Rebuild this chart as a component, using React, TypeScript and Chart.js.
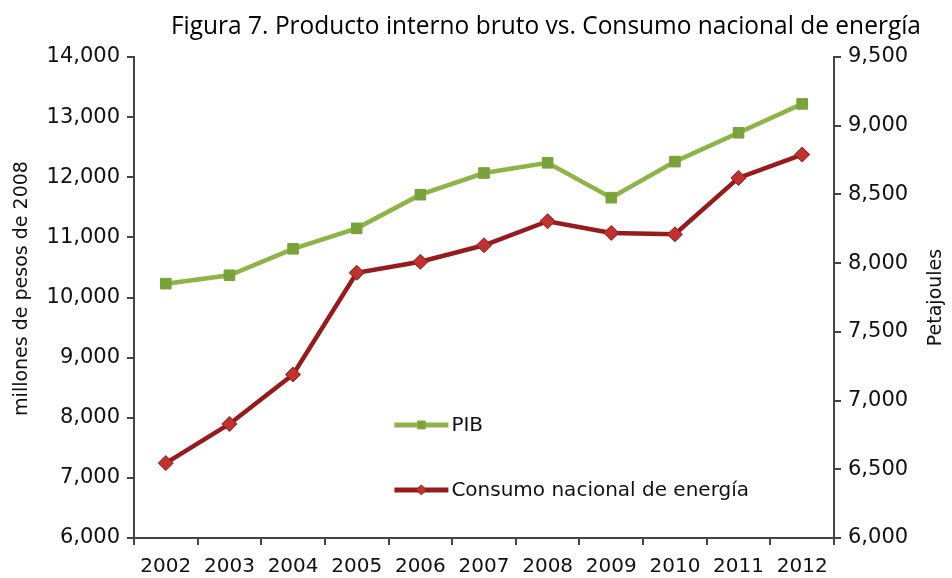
import React, { useEffect, useRef } from "react";
import { Chart, registerables } from "chart.js";

Chart.register(...registerables);

const years = ["2002", "2003", "2004", "2005", "2006", "2007", "2008", "2009", "2010", "2011", "2012"];
const pib = [10230, 10370, 10810, 11150, 11710, 12070, 12240, 11660, 12260, 12740, 13220];
const consumo = [6545, 6830, 7190, 7930, 8010, 8130, 8305, 8220, 8210, 8620, 8790];

const titleText = "Figura 7. Producto interno bruto vs. Consumo nacional de energía";
const leftTitle = "millones de pesos de 2008";
const rightTitle = "Petajoules";
const pibLabel = "PIB";
const consumoLabel = "Consumo nacional de energía";

const GREEN_LINE = "#8db446";
const GREEN_PT = "#7aa23a";
const RED_LINE = "#971b1d";
const RED_PT = "#c0322e";
const AXIS = "#444444";
const X_FONT = { family: "'DejaVu Sans'", size: 20 };
const Y_FONT = { family: "'DejaVu Sans'", size: 21 };

const fmt = (v: number) => Number(v).toLocaleString("en-US");

const textPlugin = {
  id: "customTexts",
  afterDraw(chart: any) {
    const ctx = chart.ctx;
    const a = chart.chartArea;
    ctx.save();
    // main title
    ctx.font = "26px 'Open Sans'";
    ctx.fillStyle = "#000";
    ctx.textAlign = "center";
    ctx.textBaseline = "alphabetic";
    ctx.fillText(titleText, chart.width * 0.5735, 34, 750);
    // axis titles (both read bottom-to-top)
    ctx.font = "19px 'DejaVu Sans'";
    ctx.fillStyle = "#111";
    ctx.textBaseline = "middle";
    const midY = (a.top + a.bottom) / 2;
    ctx.save();
    ctx.translate(22, midY - 9);
    ctx.rotate(-Math.PI / 2);
    ctx.fillText(leftTitle, 0, 0);
    ctx.restore();
    ctx.save();
    ctx.translate(936, midY);
    ctx.rotate(-Math.PI / 2);
    ctx.fillText(rightTitle, 0, 0);
    ctx.restore();
    ctx.restore();
  },
};

const legendPlugin = {
  id: "innerLegend",
  afterDraw(chart: any) {
    const ctx = chart.ctx;
    const a = chart.chartArea;
    const x0 = a.left + (a.right - a.left) * 0.372;
    const x1 = x0 + 54;
    const items = [
      { label: pibLabel, y: a.top + (a.bottom - a.top) * 0.765, line: GREEN_LINE, pt: GREEN_PT, style: "rect" },
      { label: consumoLabel, y: a.top + (a.bottom - a.top) * 0.9, line: RED_LINE, pt: RED_PT, style: "rectRot" },
    ];
    ctx.save();
    for (const it of items) {
      ctx.strokeStyle = it.line;
      ctx.lineWidth = 5;
      ctx.beginPath();
      ctx.moveTo(x0, it.y);
      ctx.lineTo(x1, it.y);
      ctx.stroke();
      ctx.fillStyle = it.pt;
      ctx.strokeStyle = it.line;
      ctx.lineWidth = 1;
      const cx = (x0 + x1) / 2;
      ctx.beginPath();
      if (it.style === "rect") {
        ctx.rect(cx - 4, it.y - 4, 8, 8);
      } else {
        ctx.moveTo(cx, it.y - 5);
        ctx.lineTo(cx + 5, it.y);
        ctx.lineTo(cx, it.y + 5);
        ctx.lineTo(cx - 5, it.y);
        ctx.closePath();
      }
      ctx.fill();
      ctx.stroke();
      ctx.fillStyle = "#111";
      ctx.font = "20px 'DejaVu Sans'";
      ctx.textAlign = "left";
      ctx.textBaseline = "middle";
      ctx.fillText(it.label, x1 + 3, it.y + 1, 300);
    }
    ctx.restore();
  },
};

export default function App() {
  const ref = useRef<HTMLCanvasElement | null>(null);

  useEffect(() => {
    if (!ref.current) return;
    const chart = new Chart(ref.current, {
      type: "line",
      data: {
        labels: years,
        datasets: [
          {
            label: pibLabel,
            data: pib,
            yAxisID: "y",
            borderColor: GREEN_LINE,
            backgroundColor: GREEN_PT,
            borderWidth: 4.5,
            pointStyle: "rect",
            pointRadius: 7.5,
            pointBorderColor: GREEN_PT,
            pointBackgroundColor: GREEN_PT,
            pointBorderWidth: 1,
            tension: 0,
          },
          {
            label: consumoLabel,
            data: consumo,
            yAxisID: "y1",
            borderColor: RED_LINE,
            backgroundColor: RED_PT,
            borderWidth: 4.5,
            pointStyle: "rectRot",
            pointRadius: 7.5,
            pointBorderColor: RED_LINE,
            pointBackgroundColor: RED_PT,
            pointBorderWidth: 1,
            tension: 0,
          },
        ],
      },
      options: {
        animation: false,
        responsive: true,
        maintainAspectRatio: false,
        layout: { padding: { top: 57, left: 0, right: 0, bottom: 0 } },
        plugins: {
          legend: { display: false },
          title: { display: false },
          tooltip: { enabled: false },
        },
        scales: {
          x: {
            type: "category",
            offset: true,
            grid: { display: true, drawOnChartArea: false, drawTicks: true, tickLength: 7, color: AXIS, lineWidth: 2, offset: true },
            border: { display: true, color: AXIS, width: 2 },
            ticks: { font: X_FONT, color: "#111", maxRotation: 0, autoSkip: false, padding: 10 },
            afterFit: (s: any) => { s.height = 40; },
          },
          y: {
            type: "linear",
            position: "left",
            min: 6000,
            max: 14000,
            ticks: { stepSize: 1000, font: Y_FONT, color: "#111", padding: 7, callback: (v: any) => fmt(v) },
            grid: { display: true, drawOnChartArea: false, drawTicks: true, tickLength: 7, color: AXIS, lineWidth: 2 },
            border: { display: true, color: AXIS, width: 2 },
            afterFit: (s: any) => { s.width = 134; },
          },
          y1: {
            type: "linear",
            position: "right",
            min: 6000,
            max: 9500,
            ticks: { stepSize: 500, font: Y_FONT, color: "#111", padding: 7, callback: (v: any) => fmt(v) },
            grid: { display: true, drawOnChartArea: false, drawTicks: true, tickLength: 7, color: AXIS, lineWidth: 2 },
            border: { display: true, color: AXIS, width: 2 },
            afterFit: (s: any) => { s.width = 118; },
          },
        },
      },
      plugins: [textPlugin, legendPlugin],
    } as any);
    return () => chart.destroy();
  }, []);

  return (
    <>
      <style>{"body{margin:0;}"}</style>
      <div style={{ width: 952, height: 578, position: "relative" }}>
        <canvas ref={ref} />
      </div>
    </>
  );
}
